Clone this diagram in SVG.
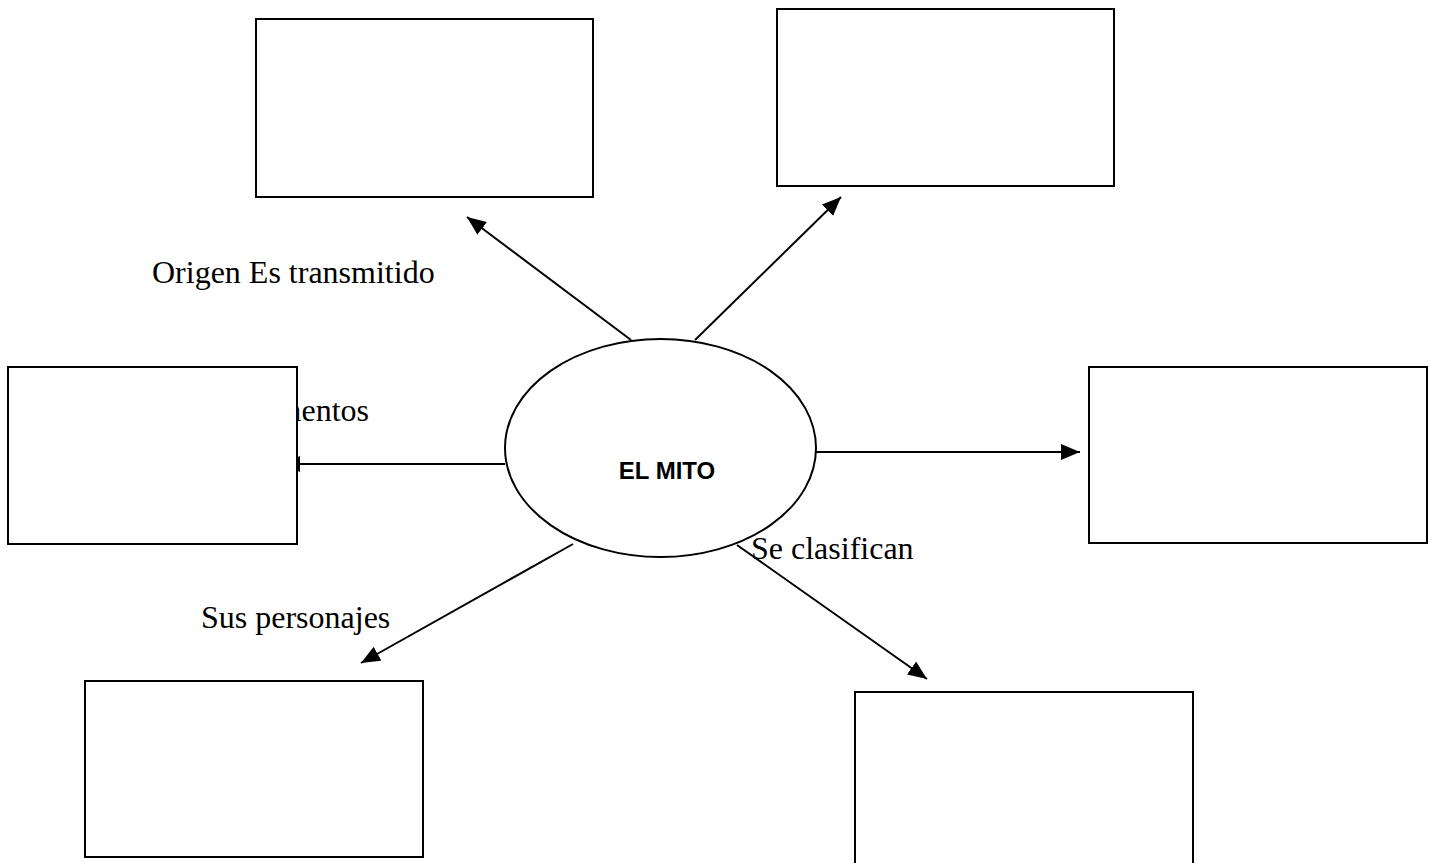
<svg xmlns="http://www.w3.org/2000/svg" width="1429" height="863" viewBox="0 0 1429 863">
<style>
.box{fill:#fff;stroke:#000;stroke-width:2}
.ell{fill:#fff;stroke:#000;stroke-width:2}
.conn line{stroke:#000;stroke-width:2;marker-end:url(#ah)}
.lbl{font-family:"Liberation Serif","Times New Roman",serif;font-size:32px;fill:#000}
.title{font-family:"Liberation Sans",Arial,sans-serif;font-weight:bold;font-size:24px;fill:#000}
</style>
<defs>
<marker id="ah" markerUnits="userSpaceOnUse" markerWidth="20" markerHeight="16" refX="19" refY="8" orient="auto">
<path d="M0,0 L19,8 L0,16 z" fill="#000"/>
</marker>
</defs>
<rect width="1429" height="863" fill="#fff"/>
<g id="connectors" class="conn">
<line x1="631" y1="340" x2="467" y2="217"/>
<line x1="695" y1="340" x2="841" y2="197"/>
<line x1="816" y1="452" x2="1080" y2="452"/>
<line x1="505" y1="464" x2="281" y2="464"/>
<line x1="573" y1="544" x2="361" y2="663"/>
<line x1="737" y1="545" x2="927" y2="679"/>
</g>
<g id="labels">
<text class="lbl" x="152" y="283">Origen Es transmitido</text>
<text class="lbl" x="369" y="421" text-anchor="end">Elementos</text>
<text class="lbl" x="201" y="628">Sus personajes</text>
<text class="lbl" x="751" y="559">Se clasifican</text>
</g>
<g id="node-center">
<ellipse class="ell" cx="660.5" cy="448" rx="155.5" ry="109" fill-opacity="0"/>
<text class="title" x="667" y="479" text-anchor="middle">EL MITO</text>
</g>
<g id="node-top-left"><rect class="box" x="256" y="19" width="337" height="178"/></g>
<g id="node-top-right"><rect class="box" x="777" y="9" width="337" height="177"/></g>
<g id="node-left"><rect class="box" x="8" y="367" width="289" height="177"/></g>
<g id="node-right"><rect class="box" x="1089" y="367" width="338" height="176"/></g>
<g id="node-bottom-left"><rect class="box" x="85" y="681" width="338" height="176"/></g>
<g id="node-bottom-right"><rect class="box" x="855" y="692" width="338" height="190"/></g>
</svg>
